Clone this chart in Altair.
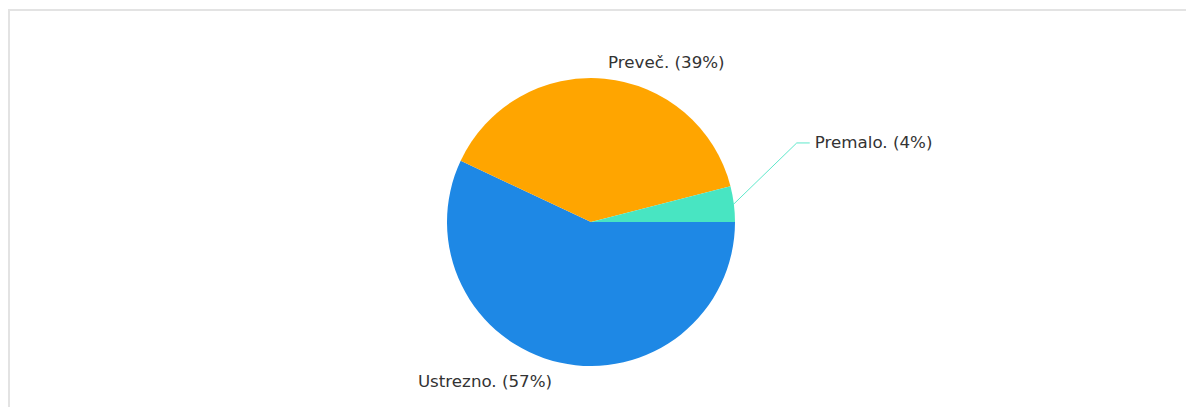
import math
import altair as alt
import pandas as pd

# ---- data ----
categories = ["Ustrezno.", "Preveč.", "Premalo."]
percent = [57, 39, 4]
colors = ["#1e88e5", "#ffa500", "#48e5c2"]

labels = [f"{c} ({p}%)" for c, p in zip(categories, percent)]
df = pd.DataFrame({"cat": categories, "value": percent, "idx": [0, 1, 2], "label": labels})

# ---- layout ----
W, H = 1178, 399
CX, CY = 583, 214          # pie centre inside the chart
R_PIE = 144
R_LAB = 160
START = math.pi / 2        # first slice starts at 3 o'clock
FONT = "DejaVu Sans"
FS = 16.7

theta_scale = alt.Scale(domain=[0, sum(percent)], range=[START, START + 2 * math.pi])
color_enc = alt.Color("cat:N", scale=alt.Scale(domain=categories, range=colors), legend=None)

arcs = alt.Chart(df).mark_arc(outerRadius=R_PIE, stroke=None).encode(
    theta=alt.Theta("value:Q", stack=True, scale=theta_scale),
    order=alt.Order("idx:Q"),
    color=color_enc,
    x=alt.value(CX),
    y=alt.value(CY),
)

# label offsets (dx, dy, align) relative to the polar anchor at R_LAB
lab_style = {
    "Ustrezno.": (-4, 4, "right"),
    "Preveč.": (2, 0, "left"),
    "Premalo.": (65, -59, "left"),
}
text_base = alt.Chart(df).transform_window(
    cum="sum(value)", sort=[alt.SortField("idx")], frame=[None, 0]
).transform_calculate(mid="datum.cum - datum.value / 2")

texts = []
for c in categories:
    dx, dy, al = lab_style[c]
    texts.append(
        text_base.transform_filter(alt.datum.cat == c)
        .mark_text(radius=R_LAB, dx=dx, dy=dy, align=al, baseline="middle",
                   font=FONT, fontSize=FS, color="#333333")
        .encode(
            theta=alt.Theta("mid:Q", stack=None, scale=theta_scale),
            text="label:N",
            x=alt.value(CX),
            y=alt.value(CY),
        )
    )

# connector for the small slice, derived from its mid-angle
tot = sum(percent)
cum = 0
mids = {}
for c, p in zip(categories, percent):
    mids[c] = START + 2 * math.pi * (cum + p / 2) / tot
    cum += p
a = mids["Premalo."]
sx, sy = CX + R_PIE * math.sin(a), CY - R_PIE * math.cos(a)
lx = CX + R_LAB * math.sin(a) + lab_style["Premalo."][0]
ly = CY - R_LAB * math.cos(a) + lab_style["Premalo."][1]
conn = pd.DataFrame({"px": [sx, lx - 18, lx - 5], "py": [sy, ly, ly], "o": [0, 1, 2]})
connector = alt.Chart(conn).mark_line(color="#5fe8cb", strokeWidth=1).encode(
    x=alt.X("px:Q", scale=None), y=alt.Y("py:Q", scale=None), order="o:Q"
)

# frame lines (top and left) of the chart container
one = pd.DataFrame({"z": [0]})
top_line = alt.Chart(one).mark_rule(color="#e3e3e3", strokeWidth=2).encode(
    x=alt.value(0), x2=alt.value(W), y=alt.value(2)
)
left_line = alt.Chart(one).mark_rule(color="#e3e3e3", strokeWidth=2).encode(
    x=alt.value(1), y=alt.value(1), y2=alt.value(H)
)

chart = alt.layer(top_line, left_line, arcs, connector, *texts).properties(
    width=W, height=H, padding=0, autosize=alt.AutoSizeParams(type="none")
).configure_view(stroke=None)

chart.save("out.html", embed_options={"renderer": "svg", "actions": False})
